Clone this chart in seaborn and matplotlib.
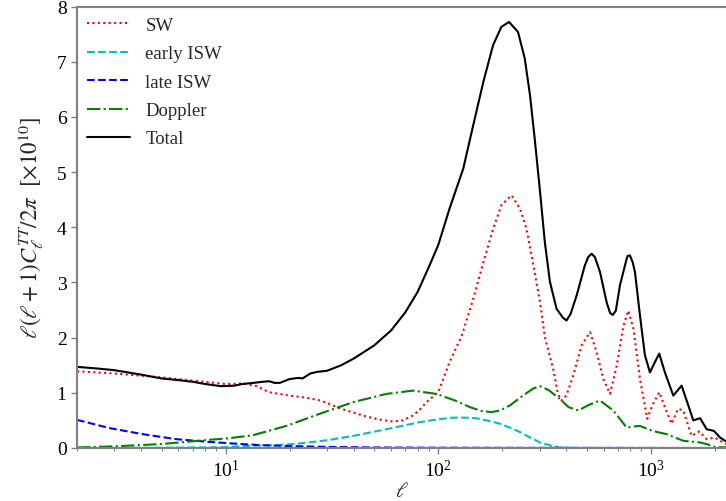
import numpy as np
import pandas as pd
import seaborn as sns
import matplotlib
matplotlib.use("Agg")
import matplotlib.pyplot as plt

# ---------------- data ----------------
ell_total = [2, 2.5, 3, 4, 5, 6, 7, 8, 9.5, 11, 12, 13.5, 15, 16, 17, 18, 20, 22, 23, 25, 27, 30,
             35, 40, 50, 60, 70, 80, 91, 100, 113, 131, 146, 163, 181, 198, 215, 237, 255, 270,
             285, 301, 317, 335, 360, 386, 401, 419, 447, 489, 507, 526, 545, 576, 619, 642, 661,
             684, 715, 769, 777, 796, 820, 841, 888, 937, 989, 1045, 1094, 1163, 1274, 1394,
             1499, 1582, 1703, 1828, 1979, 2113, 2254]
cl_total = [1.47, 1.44, 1.41, 1.33, 1.26, 1.23, 1.20, 1.16, 1.12, 1.13, 1.16, 1.18, 1.20, 1.21,
            1.18, 1.18, 1.25, 1.27, 1.26, 1.35, 1.38, 1.40, 1.50, 1.62, 1.86, 2.13, 2.46, 2.83,
            3.31, 3.68, 4.34, 5.06, 5.85, 6.64, 7.30, 7.63, 7.72, 7.54, 7.06, 6.39, 5.55, 4.64,
            3.73, 3.01, 2.52, 2.36, 2.31, 2.43, 2.76, 3.31, 3.46, 3.52, 3.46, 3.19, 2.64, 2.45,
            2.41, 2.49, 2.95, 3.43, 3.48, 3.49, 3.37, 3.19, 2.40, 1.68, 1.37, 1.56, 1.71, 1.37,
            0.95, 1.13, 0.77, 0.50, 0.54, 0.34, 0.31, 0.19, 0.12]

ell_sw = [2, 3, 5, 7, 10, 12, 14, 16, 20, 24, 28, 35, 44, 52, 61, 68, 76, 82, 88, 100, 113, 129,
          146, 163, 181, 198, 221, 242, 260, 280, 301, 317, 347, 365, 380, 400, 431, 472, 517,
          555, 597, 642, 690, 742, 783, 827, 888, 960, 1015, 1094, 1187, 1250, 1342, 1420, 1552,
          1686, 1828, 1990, 2254]
cl_sw = [1.39, 1.35, 1.28, 1.22, 1.16, 1.17, 1.12, 1.01, 0.95, 0.91, 0.86, 0.71, 0.59, 0.52,
         0.48, 0.50, 0.59, 0.70, 0.83, 1.01, 1.56, 2.04, 2.70, 3.37, 3.97, 4.40, 4.58, 4.34,
         3.97, 3.31, 2.64, 2.01, 1.43, 0.98, 0.86, 0.95, 1.31, 1.86, 2.10, 1.74, 1.25, 0.98,
         1.49, 2.21, 2.49, 2.16, 1.25, 0.53, 0.77, 1.01, 0.65, 0.44, 0.71, 0.68, 0.22, 0.30,
         0.16, 0.19, 0.07]

ell_eisw = [2, 5, 10, 13, 17, 22, 30, 40, 57, 82, 100, 117, 135, 150, 169, 195, 220, 242, 270,
            301, 340, 373, 450, 2254]
cl_eisw = [0.0, 0.005, 0.015, 0.04, 0.05, 0.08, 0.14, 0.22, 0.34, 0.47, 0.52, 0.55, 0.55, 0.54,
           0.50, 0.44, 0.36, 0.29, 0.19, 0.10, 0.04, 0.01, 0.0, 0.0]

ell_lisw = [2, 2.85, 4.08, 5.86, 8.4, 12, 15, 20, 30, 50, 100, 2254]
cl_lisw = [0.51, 0.36, 0.25, 0.16, 0.11, 0.07, 0.05, 0.035, 0.02, 0.01, 0.005, 0.0]

ell_dop = [2, 3, 4.9, 6.5, 8.4, 10, 13.4, 19.3, 27.7, 39.7, 57, 76, 98, 120, 141, 160, 178, 195,
           217, 250, 280, 301, 330, 373, 410, 455, 510, 576, 665, 769, 830, 888, 1015, 1187,
           1420, 1703, 1831, 2000, 2254]
cl_dop = [0.01, 0.03, 0.07, 0.11, 0.15, 0.17, 0.23, 0.40, 0.62, 0.83, 0.98, 1.04, 0.98, 0.86,
          0.74, 0.67, 0.65, 0.68, 0.77, 0.95, 1.08, 1.12, 1.05, 0.89, 0.74, 0.68, 0.78, 0.86,
          0.68, 0.37, 0.39, 0.40, 0.31, 0.25, 0.13, 0.10, 0.07, 0.02, 0.01]

series_names = ["SW", "early ISW", "late ISW", "Doppler", "Total"]
y_ticks = [0, 1, 2, 3, 4, 5, 6, 7, 8]

# ---------------- style ----------------
sns.set_style("ticks")
plt.rcParams["font.family"] = ["Liberation Serif", "DejaVu Serif"]
plt.rcParams["mathtext.fontset"] = "stix"

fig = plt.figure(figsize=(7.26, 5.02), dpi=100)
ax = fig.add_axes([77 / 726, 1 - 449 / 502, 1 - 77 / 726, (449 - 7.5) / 502])

series = [
    (ell_sw, cl_sw, series_names[0], "red", (0, (1, 1.6))),
    (ell_eisw, cl_eisw, series_names[1], "c", (0, (3.7, 1.6))),
    (ell_lisw, cl_lisw, series_names[2], "blue", (0, (3.7, 1.6))),
    (ell_dop, cl_dop, series_names[3], "green", (0, (6.4, 1.6, 1, 1.6))),
    (ell_total, cl_total, series_names[4], "black", "-"),
]
for x, y, name, col, ls in series:
    df = pd.DataFrame({"ell": x, "cl": y})
    sns.lineplot(data=df, x="ell", y="cl", ax=ax, color=col, linestyle=ls,
                 linewidth=1.5, label=name, sort=False, estimator=None)

ax.set_xscale("log")
ax.set_xlim(2, 2254)
ax.set_ylim(0, 8)
ax.set_yticks(y_ticks)

spine_col = "#808080"
for s in ["left", "bottom", "top"]:
    ax.spines[s].set_color(spine_col)
    ax.spines[s].set_linewidth(1.5)
ax.spines["right"].set_visible(False)
ax.tick_params(axis="both", which="both", colors=spine_col, labelcolor="black",
               labelsize=14, direction="out")
ax.tick_params(axis="both", which="major", length=4, width=1)
ax.tick_params(axis="x", which="minor", length=2.5, width=0.8)

ax.set_xlabel(r"$\ell$", fontsize=15, labelpad=2)
ax.set_ylabel(r"$\ell(\ell+1)C_\ell^{TT}/2\pi\ \ [\times 10^{10}]$", fontsize=16.5, labelpad=8)

leg = ax.legend(loc="upper left", frameon=False, fontsize=13.5, handlelength=2.3,
                labelspacing=0.6, borderaxespad=0.15)

fig.savefig("out.png", dpi=100)
